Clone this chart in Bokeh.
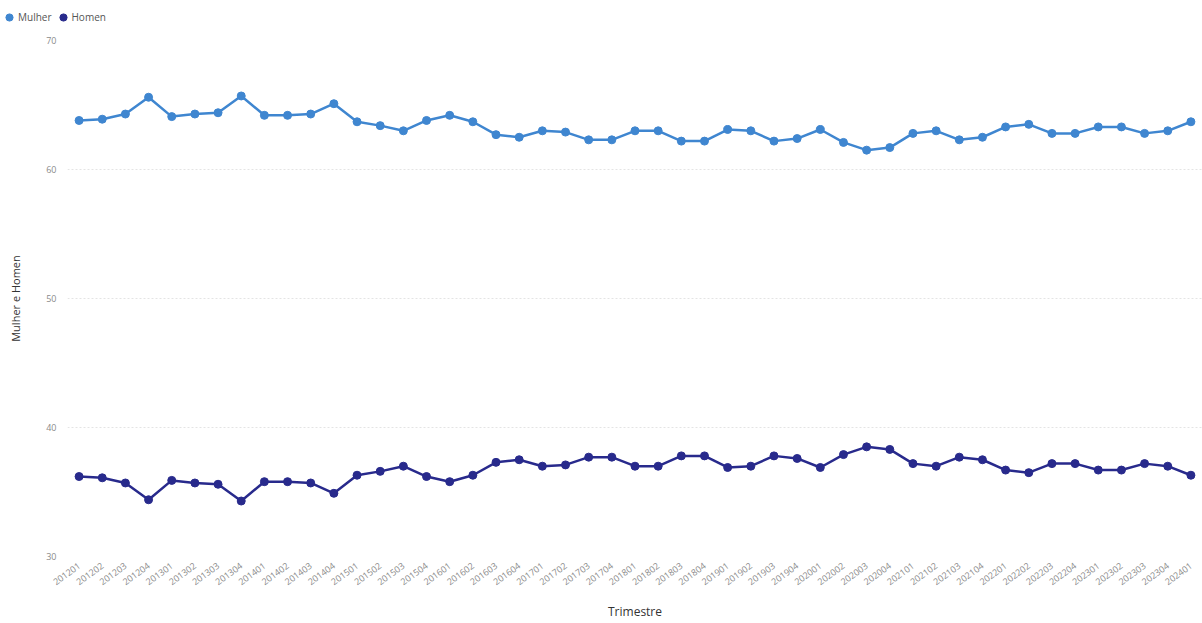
import math
from bokeh.plotting import figure
from bokeh.layouts import column
from bokeh.models import ColumnDataSource, FactorRange, Range1d, Legend, LegendItem, FixedTicker
from bokeh.embed import file_html
from bokeh.resources import INLINE

trimestres = [
    "201201", "201202", "201203", "201204",
    "201301", "201302", "201303", "201304",
    "201401", "201402", "201403", "201404",
    "201501", "201502", "201503", "201504",
    "201601", "201602", "201603", "201604",
    "201701", "201702", "201703", "201704",
    "201801", "201802", "201803", "201804",
    "201901", "201902", "201903", "201904",
    "202001", "202002", "202003", "202004",
    "202101", "202102", "202103", "202104",
    "202201", "202202", "202203", "202204",
    "202301", "202302", "202303", "202304",
    "202401",
]

mulher = [
    63.8, 63.9, 64.3, 65.6,
    64.1, 64.3, 64.4, 65.7,
    64.2, 64.2, 64.3, 65.1,
    63.7, 63.4, 63.0, 63.8,
    64.2, 63.7, 62.7, 62.5,
    63.0, 62.9, 62.3, 62.3,
    63.0, 63.0, 62.2, 62.2,
    63.1, 63.0, 62.2, 62.4,
    63.1, 62.1, 61.5, 61.7,
    62.8, 63.0, 62.3, 62.5,
    63.3, 63.5, 62.8, 62.8,
    63.3, 63.3, 62.8, 63.0,
    63.7,
]

homen = [
    36.2, 36.1, 35.7, 34.4,
    35.9, 35.7, 35.6, 34.3,
    35.8, 35.8, 35.7, 34.9,
    36.3, 36.6, 37.0, 36.2,
    35.8, 36.3, 37.3, 37.5,
    37.0, 37.1, 37.7, 37.7,
    37.0, 37.0, 37.8, 37.8,
    36.9, 37.0, 37.8, 37.6,
    36.9, 37.9, 38.5, 38.3,
    37.2, 37.0, 37.7, 37.5,
    36.7, 36.5, 37.2, 37.2,
    36.7, 36.7, 37.2, 37.0,
    36.3,
]

series_names = ["Mulher", "Homen"]
y_ticks = [30, 40, 50, 60, 70]

FONT = "Open Sans"
C_MULHER = "#3f86d0"
C_HOMEN = "#282a8c"

source = ColumnDataSource(dict(x=trimestres, mulher=mulher, homen=homen))

# ---- legend strip (top): same data, drawn outside its visible y-range ----
LEG_H = 30
lf = figure(
    width=1202, height=LEG_H, output_backend="svg", toolbar_location=None,
    x_range=FactorRange(*trimestres), y_range=Range1d(0, 1),
    x_axis_location=None, y_axis_location=None,
    min_border=0, background_fill_color="white", border_fill_color="white",
)
lf.frame_align = False
lf.outline_line_color = None
lf.grid.visible = False
r_m = lf.scatter("x", "mulher", source=source, size=8, color=C_MULHER)
r_h = lf.scatter("x", "homen", source=source, size=8, color=C_HOMEN)
legend = Legend(
    items=[LegendItem(label=series_names[0], renderers=[r_m]),
           LegendItem(label=series_names[1], renderers=[r_h])],
    orientation="horizontal", location=(0, 4),
    label_text_font=FONT, label_text_font_size="10px", label_text_color="#555555",
    glyph_width=18, glyph_height=18, label_standoff=0, spacing=2,
    padding=0, margin=0, border_line_color=None, background_fill_alpha=0,
    label_height=12,
)
lf.add_layout(legend, "center")

# ---- main chart ----
p = figure(
    width=1202, height=623 - LEG_H,
    x_range=FactorRange(*trimestres, range_padding=0),
    y_range=Range1d(30, 70),
    output_backend="svg", toolbar_location=None,
    min_border_left=67, min_border_right=0, min_border_top=40 - LEG_H, min_border_bottom=20,
    background_fill_color="white", border_fill_color="white",
)
p.frame_align = False
p.outline_line_color = None

p.line("x", "mulher", source=source, color=C_MULHER, line_width=2.5)
p.scatter("x", "mulher", source=source, size=8, color=C_MULHER)
p.line("x", "homen", source=source, color=C_HOMEN, line_width=2.5)
p.scatter("x", "homen", source=source, size=8, color=C_HOMEN)

p.yaxis.ticker = FixedTicker(ticks=y_ticks)
p.yaxis.axis_line_color = None
p.yaxis.major_tick_line_color = None
p.yaxis.minor_tick_line_color = None
p.yaxis.major_label_text_font = FONT
p.yaxis.major_label_text_font_size = "9px"
p.yaxis.major_label_text_color = "#8a8a8a"
p.yaxis.axis_label = "Mulher e Homen"
p.yaxis.axis_label_text_font = FONT
p.yaxis.axis_label_text_font_style = "normal"
p.yaxis.axis_label_text_font_size = "11px"
p.yaxis.axis_label_text_color = "#333333"
p.yaxis.axis_label_standoff = 20

p.xaxis.axis_line_color = None
p.xaxis.major_tick_line_color = None
p.xaxis.minor_tick_line_color = None
p.xaxis.major_label_orientation = math.pi / 5
p.xaxis.major_label_text_font = FONT
p.xaxis.major_label_text_font_size = "9px"
p.xaxis.major_label_text_color = "#8a8a8a"
p.xaxis.major_label_standoff = 2
p.xaxis.axis_label = "Trimestre"
p.xaxis.axis_label_text_font = FONT
p.xaxis.axis_label_text_font_style = "normal"
p.xaxis.axis_label_text_font_size = "12px"
p.xaxis.axis_label_text_color = "#333333"
p.xaxis.axis_label_standoff = 12

p.xgrid.grid_line_color = None
p.ygrid.grid_line_color = "#e4e4e4"
p.ygrid.grid_line_dash = "2 2"

layout = column(lf, p, spacing=0)

open("out.html", "w").write(file_html(layout, INLINE))
